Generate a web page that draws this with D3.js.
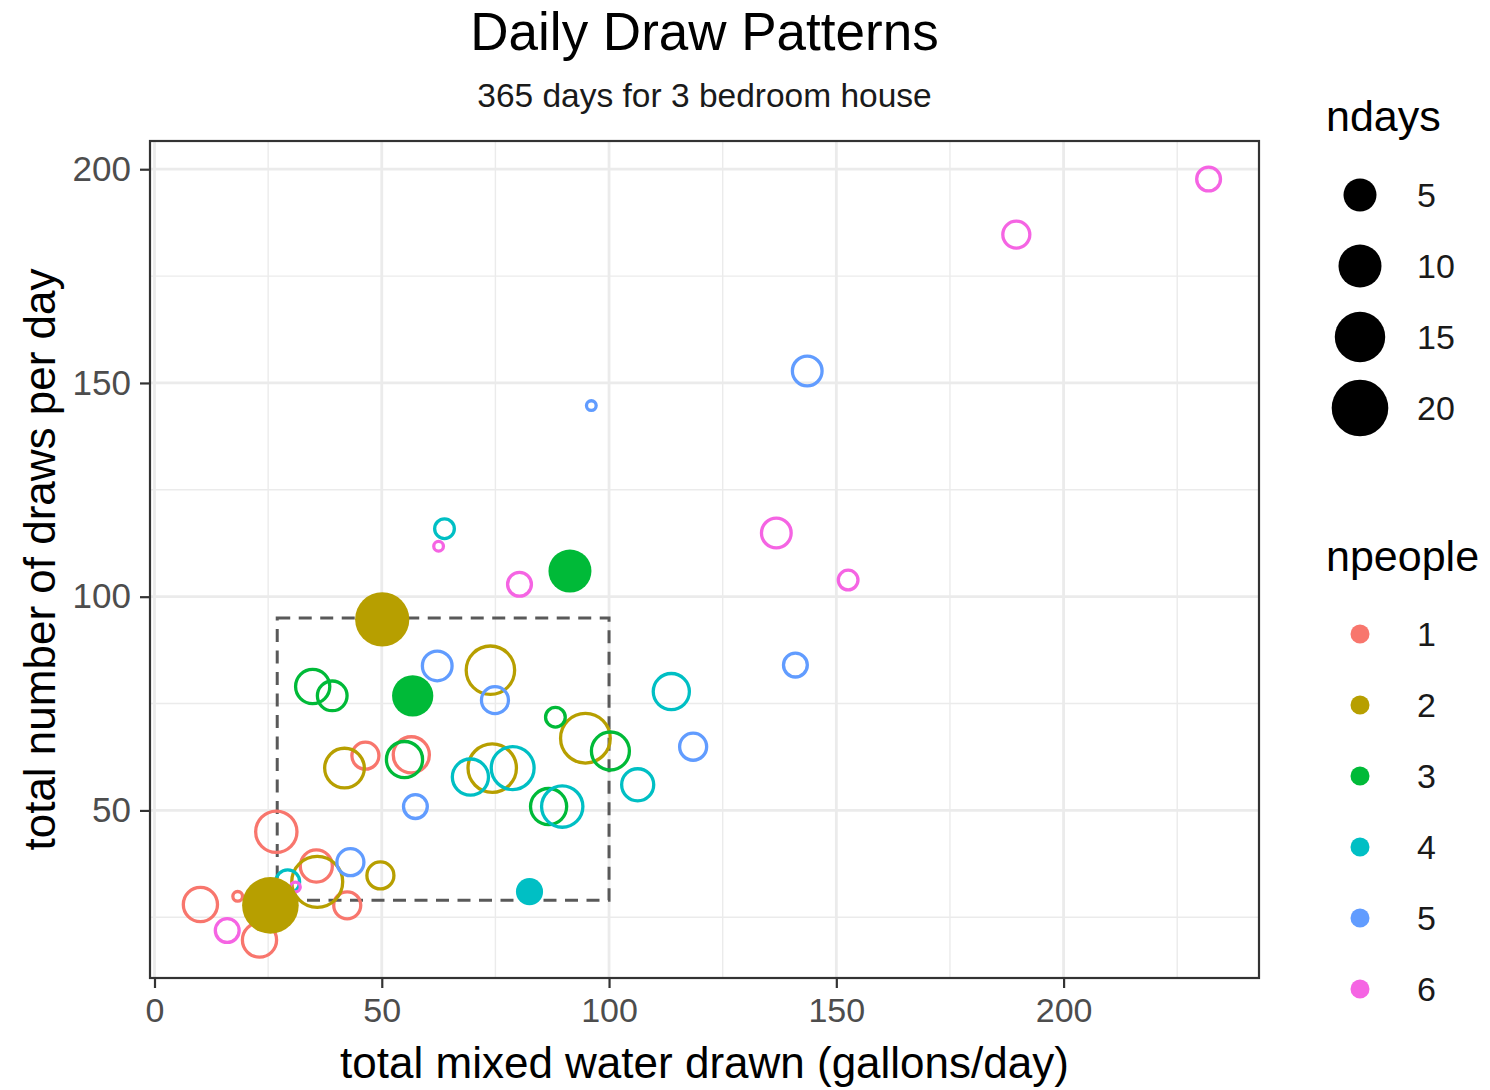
<!DOCTYPE html>
<html>
<head>
<meta charset="utf-8">
<script src="https://cdn.jsdelivr.net/npm/d3@7"></script>
<style>
  html, body { margin: 0; padding: 0; background: #ffffff; }
  svg { display: block; }
  text { font-family: "Liberation Sans", Arial, Helvetica, sans-serif; }
</style>
</head>
<body>
<svg id="chart" width="1490" height="1090"></svg>
<script>
// ---- data: one row per cluster of days ----
const npeople = [
  1, 1, 1, 1, 1, 1, 1, 1,
  2, 2, 2, 2, 2, 2, 2, 2,
  3, 3, 3, 3, 3, 3, 3, 3,
  4, 4, 4, 4, 4, 4, 4, 4,
  5, 5, 5, 5, 5, 5, 5, 5,
  6, 6, 6, 6, 6, 6, 6, 6
];
const gallonsPerDay = [
  26.8, 10.1, 18.3, 23.1, 35.6, 42.4, 46.4, 56.5,
  50.1, 25.5, 73.9, 94.8, 74.3, 41.8, 49.7, 35.8,
  91.4, 56.8, 34.8, 39.1, 88.2, 100.3, 55.0, 86.7,
  63.8, 113.7, 106.3, 69.5, 78.8, 89.7, 82.5, 29.3,
  143.6, 96.1, 141.0, 118.5, 62.2, 74.9, 57.4, 43.1,
  231.9, 189.6, 136.8, 152.6, 80.3, 62.5, 16.0, 31.0
];
const drawsPerDay = [
  45.0, 28.0, 29.9, 19.7, 37.0, 27.8, 62.8, 63.0,
  94.7, 27.8, 82.8, 66.9, 59.9, 59.9, 34.8, 33.3,
  106.0, 76.8, 79.0, 76.8, 71.8, 63.9, 61.9, 50.9,
  115.9, 77.8, 56.0, 57.8, 59.9, 50.9, 31.0, 33.3,
  152.8, 144.7, 84.0, 64.9, 83.8, 75.8, 50.9, 37.9,
  197.7, 184.7, 114.9, 103.9, 102.9, 111.8, 21.9, 32.1
];
const ndays = [
  11, 7, 1, 7, 6, 4, 4, 8,
  18, 20, 16, 17, 16, 10, 4, 18,
  10, 9, 7, 5, 2, 9, 8, 8,
  2, 8, 6, 8, 12, 11, 3, 3,
  5, 1, 3, 4, 5, 4, 3, 4,
  3, 4, 5, 2, 3, 1, 3, 1
];
// clusters drawn as solid discs
const solid = [
  0, 0, 0, 0, 0, 0, 0, 0,
  1, 1, 0, 0, 0, 0, 0, 0,
  1, 1, 0, 0, 0, 0, 0, 0,
  0, 0, 0, 0, 0, 0, 1, 0,
  0, 0, 0, 0, 0, 0, 0, 0,
  0, 0, 0, 0, 0, 0, 0, 0
];
// highlighted window (gallons/day x draws/day)
const windowGallons = [27, 100];
const windowDraws = [29, 95];

const peopleLevels = [1, 2, 3, 4, 5, 6];
const peopleColors = ["#F8766D", "#B79F00", "#00BA38", "#00BFC4", "#619CFF", "#F564E3"];
const ndaysBreaks = [5, 10, 15, 20];
const xTicks = [0, 50, 100, 150, 200];
const xMinor = [25, 75, 125, 175, 225];
const yTicks = [50, 100, 150, 200];
const yMinor = [25, 75, 125, 175];

const rows = npeople.map((p, i) => ({
  people: p, x: gallonsPerDay[i], y: drawsPerDay[i], n: ndays[i], solid: !!solid[i]
}));

// ---- layout ----
const svg = d3.select("#chart");
const panel = { left: 150, right: 1259, top: 141, bottom: 978 };

function expand(ext) {
  const pad = (ext[1] - ext[0]) * 0.05;
  return [ext[0] - pad, ext[1] + pad];
}
const x = d3.scaleLinear().domain(expand(d3.extent(gallonsPerDay))).range([panel.left, panel.right]);
const y = d3.scaleLinear().domain(expand(d3.extent(drawsPerDay))).range([panel.bottom, panel.top]);
const color = d3.scaleOrdinal().domain(peopleLevels).range(peopleColors);

// point radius: sqrt of the rescaled day count between a minimum and maximum radius
const nScale = d3.scaleLinear().domain([1, 20]).range([0, 1]);
const rScale = d3.scaleLinear().domain([0, Math.sqrt(nScale(20))]).range([6.5, 28.3]);
const radius = n => rScale(Math.sqrt(Math.max(0, nScale(n))));

const ringWidth = 3.3;

svg.append("rect").attr("width", 1490).attr("height", 1090).attr("fill", "#ffffff");

// ---- grid ----
const grid = svg.append("g");
grid.selectAll(".vminor").data(xMinor).join("line")
  .attr("x1", d => x(d)).attr("x2", d => x(d))
  .attr("y1", panel.top).attr("y2", panel.bottom)
  .attr("stroke", "#EBEBEB").attr("stroke-width", 1.4);
grid.selectAll(".hminor").data(yMinor).join("line")
  .attr("y1", d => y(d)).attr("y2", d => y(d))
  .attr("x1", panel.left).attr("x2", panel.right)
  .attr("stroke", "#EBEBEB").attr("stroke-width", 1.4);
grid.selectAll(".vmajor").data(xTicks).join("line")
  .attr("x1", d => x(d)).attr("x2", d => x(d))
  .attr("y1", panel.top).attr("y2", panel.bottom)
  .attr("stroke", "#EBEBEB").attr("stroke-width", 2.8);
grid.selectAll(".hmajor").data(yTicks).join("line")
  .attr("y1", d => y(d)).attr("y2", d => y(d))
  .attr("x1", panel.left).attr("x2", panel.right)
  .attr("stroke", "#EBEBEB").attr("stroke-width", 2.8);

// ---- dashed window ----
svg.append("rect")
  .attr("x", x(windowGallons[0]))
  .attr("y", y(windowDraws[1]))
  .attr("width", x(windowGallons[1]) - x(windowGallons[0]))
  .attr("height", y(windowDraws[0]) - y(windowDraws[1]))
  .attr("fill", "none")
  .attr("stroke", "#595959")
  .attr("stroke-width", 3)
  .attr("stroke-dasharray", "13,8.5");

// ---- points ----
const pts = svg.append("g");
pts.selectAll(".ring").data(rows.filter(d => !d.solid)).join("circle")
  .attr("cx", d => x(d.x)).attr("cy", d => y(d.y))
  .attr("r", d => Math.max(1, radius(d.n) - ringWidth / 2))
  .attr("fill", "none")
  .attr("stroke", d => color(d.people))
  .attr("stroke-width", ringWidth);
pts.selectAll(".disc").data(rows.filter(d => d.solid)).join("circle")
  .attr("cx", d => x(d.x)).attr("cy", d => y(d.y))
  .attr("r", d => radius(d.n))
  .attr("fill", d => color(d.people));

// ---- panel border ----
svg.append("rect")
  .attr("x", panel.left).attr("y", panel.top)
  .attr("width", panel.right - panel.left).attr("height", panel.bottom - panel.top)
  .attr("fill", "none").attr("stroke", "#333333").attr("stroke-width", 2.2);

// ---- axes ----
const xAxis = svg.append("g")
  .attr("transform", `translate(0,${panel.bottom})`)
  .call(d3.axisBottom(x).tickValues(xTicks).tickSize(10).tickPadding(10).tickFormat(d3.format("d")));
xAxis.select(".domain").remove();
xAxis.selectAll(".tick line").attr("stroke", "#333333").attr("stroke-width", 2.2);
xAxis.selectAll(".tick text")
  .attr("fill", "#4D4D4D").attr("font-size", 34)
  .attr("font-family", "Liberation Sans, Arial, sans-serif");

const yAxis = svg.append("g")
  .attr("transform", `translate(${panel.left},0)`)
  .call(d3.axisLeft(y).tickValues(yTicks).tickSize(10).tickPadding(9).tickFormat(d3.format("d")));
yAxis.select(".domain").remove();
yAxis.selectAll(".tick line").attr("stroke", "#333333").attr("stroke-width", 2.2);
yAxis.selectAll(".tick text")
  .attr("fill", "#4D4D4D").attr("font-size", 35)
  .attr("font-family", "Liberation Sans, Arial, sans-serif");

// ---- titles ----
const midX = (panel.left + panel.right) / 2;
svg.append("text").attr("x", midX).attr("y", 50)
  .attr("text-anchor", "middle").attr("font-size", 53).attr("fill", "#000")
  .text("Daily Draw Patterns");
svg.append("text").attr("x", midX).attr("y", 107)
  .attr("text-anchor", "middle").attr("font-size", 33.5).attr("fill", "#1a1a1a")
  .text("365 days for 3 bedroom house");
svg.append("text").attr("x", midX).attr("y", 1078)
  .attr("text-anchor", "middle").attr("font-size", 44).attr("fill", "#000")
  .text("total mixed water drawn (gallons/day)");
svg.append("text")
  .attr("transform", `translate(55,${(panel.top + panel.bottom) / 2}) rotate(-90)`)
  .attr("text-anchor", "middle").attr("font-size", 44).attr("fill", "#000")
  .text("total number of draws per day");

// ---- legend: ndays ----
const legX = 1326, keyX = 1360, labX = 1417, keyStep = 71;
svg.append("text").attr("x", legX).attr("y", 131)
  .attr("font-size", 43).attr("fill", "#000").text("ndays");
const sizeLeg = svg.append("g");
sizeLeg.selectAll("circle").data(ndaysBreaks).join("circle")
  .attr("cx", keyX).attr("cy", (d, i) => 195 + i * keyStep)
  .attr("r", d => radius(d)).attr("fill", "#000");
sizeLeg.selectAll("text").data(ndaysBreaks).join("text")
  .attr("x", labX).attr("y", (d, i) => 195 + i * keyStep).attr("dy", "0.36em")
  .attr("font-size", 34).attr("fill", "#1a1a1a").text(d => d);

// ---- legend: npeople ----
svg.append("text").attr("x", legX).attr("y", 571)
  .attr("font-size", 43).attr("fill", "#000").text("npeople");
const colLeg = svg.append("g");
colLeg.selectAll("circle").data(peopleLevels).join("circle")
  .attr("cx", keyX).attr("cy", (d, i) => 634 + i * keyStep)
  .attr("r", 9.5).attr("fill", d => color(d));
colLeg.selectAll("text").data(peopleLevels).join("text")
  .attr("x", labX).attr("y", (d, i) => 634 + i * keyStep).attr("dy", "0.36em")
  .attr("font-size", 34).attr("fill", "#1a1a1a").text(d => d);
</script>
</body>
</html>
